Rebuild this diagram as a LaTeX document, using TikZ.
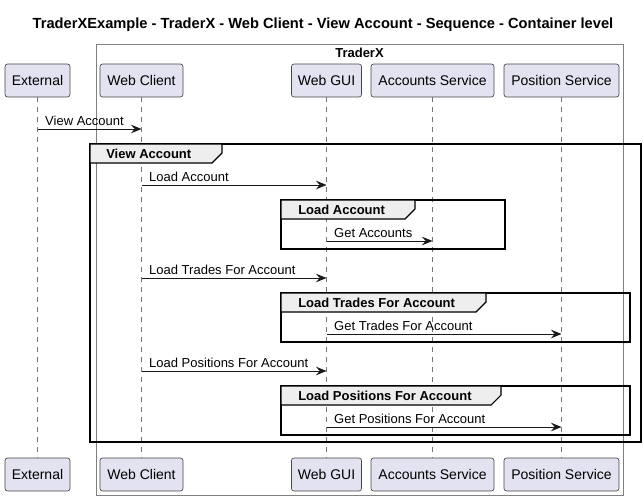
\documentclass[tikz,border=0pt]{standalone}
\usepackage{fontspec}
\setmainfont{Liberation Sans}
\usetikzlibrary{arrows.meta}
\definecolor{partfill}{HTML}{E2E2F0}
\definecolor{tabfill}{HTML}{EEEEEE}
\definecolor{ink}{HTML}{181818}
\begin{document}
\begin{tikzpicture}[x=0.75pt,y=-0.75pt,
 part/.style={draw=ink!80, fill=partfill, rounded corners=1.9pt, line width=0.5pt, minimum height=24.75pt, inner sep=0pt, font=\fontsize{10.5}{12}\selectfont, text=black},
 life/.style={draw=ink!60, line width=0.5pt, dash pattern=on 3.75pt off 3.75pt},
 msg/.style={draw=ink, line width=0.75pt, -{Stealth[length=8pt,width=6.5pt,inset=3pt]}},
 msglabel/.style={anchor=base west, font=\fontsize{9.75}{11}\selectfont, inner sep=0pt},
 frame/.style={draw=black, line width=1.1pt},
 tab/.style={draw=black, line width=0.8pt, fill=tabfill},
 grouplabel/.style={anchor=base west, font=\bfseries\fontsize{9.75}{11}\selectfont, inner sep=0pt},
 boxline/.style={draw=black!50, line width=0.75pt},
 ]
\useasboundingbox (0,0) rectangle (644,500);
\fill[white] (0,0) rectangle (644,500);

% title
\node[font=\bfseries\fontsize{11}{13}\selectfont] (title) at (323,25) {TraderXExample - TraderX - Web Client - View Account - Sequence - Container level};

% TraderX box
\draw[boxline] (96,44) rectangle (623,495);
\node[font=\bfseries\fontsize{9.75}{11}\selectfont, inner sep=0pt] (traderxlabel) at (359.5,53) {TraderX};

% participants (top)
\node[part, minimum width=48.75pt] (ext) at (37.5,80.5) {External};
\node[part, minimum width=62.25pt] (wc) at (141.5,80.5) {Web Client};
\node[part, minimum width=52.5pt] (gui) at (326.5,80.5) {Web GUI};
\node[part, minimum width=92.25pt] (acc) at (432.5,80.5) {Accounts Service};
\node[part, minimum width=86.25pt] (pos) at (561.5,80.5) {Position Service};
% participants (bottom)
\node[part, minimum width=48.75pt] (extb) at (37.5,474.5) {External};
\node[part, minimum width=62.25pt] (wcb) at (141.5,474.5) {Web Client};
\node[part, minimum width=52.5pt] (guib) at (326.5,474.5) {Web GUI};
\node[part, minimum width=92.25pt] (accb) at (432.5,474.5) {Accounts Service};
\node[part, minimum width=86.25pt] (posb) at (561.5,474.5) {Position Service};

% lifelines
\draw[life] (ext.south) -- (extb.north);
\draw[life] (wc.south) -- (wcb.north);
\draw[life] (gui.south) -- (guib.north);
\draw[life] (acc.south) -- (accb.north);
\draw[life] (pos.south) -- (posb.north);

% groups
\draw[frame] (90,144) rectangle (641,442);
\draw[tab] (90,144) -- (222,144) -- (222,153) -- (212,163) -- (90,163) -- cycle;
\node[grouplabel] (g0) at (106,158.5) {View Account};

\draw[frame] (281,200) rectangle (505,249);
\draw[tab] (281,200) -- (415,200) -- (415,209) -- (405,219) -- (281,219) -- cycle;
\node[grouplabel] (g1) at (298,214.5) {Load Account};

\draw[frame] (281,293) rectangle (630,342);
\draw[tab] (281,293) -- (486,293) -- (486,302) -- (476,312) -- (281,312) -- cycle;
\node[grouplabel] (g2) at (298,307.5) {Load Trades For Account};

\draw[frame] (281,386) rectangle (630,435);
\draw[tab] (281,386) -- (501,386) -- (501,395) -- (491,405) -- (281,405) -- cycle;
\node[grouplabel] (g3) at (298,400.5) {Load Positions For Account};

% message rows
\coordinate (r1) at (0,129);
\coordinate (r2) at (0,185);
\coordinate (r3) at (0,241);
\coordinate (r4) at (0,278);
\coordinate (r5) at (0,334);
\coordinate (r6) at (0,371);
\coordinate (r7) at (0,427);

\coordinate (m1s) at (ext |- r1); \coordinate (m1e) at (wc |- r1);
\coordinate (m2s) at (wc |- r2); \coordinate (m2e) at (gui |- r2);
\coordinate (m3s) at (gui |- r3); \coordinate (m3e) at (acc |- r3);
\coordinate (m4s) at (wc |- r4); \coordinate (m4e) at (gui |- r4);
\coordinate (m5s) at (gui |- r5); \coordinate (m5e) at (pos |- r5);
\coordinate (m6s) at (wc |- r6); \coordinate (m6e) at (gui |- r6);
\coordinate (m7s) at (gui |- r7); \coordinate (m7e) at (pos |- r7);

\draw[msg] (m1s) -- (m1e);
\draw[msg] (m2s) -- (m2e);
\draw[msg] (m3s) -- (m3e);
\draw[msg] (m4s) -- (m4e);
\draw[msg] (m5s) -- (m5e);
\draw[msg] (m6s) -- (m6e);
\draw[msg] (m7s) -- (m7e);

\node[msglabel] (l1) at ([xshift=5.6pt,yshift=3pt]m1s) {View Account};
\node[msglabel] (l2) at ([xshift=5.6pt,yshift=3pt]m2s) {Load Account};
\node[msglabel] (l3) at ([xshift=5.6pt,yshift=3pt]m3s) {Get Accounts};
\node[msglabel] (l4) at ([xshift=5.6pt,yshift=3pt]m4s) {Load Trades For Account};
\node[msglabel] (l5) at ([xshift=5.6pt,yshift=3pt]m5s) {Get Trades For Account};
\node[msglabel] (l6) at ([xshift=5.6pt,yshift=3pt]m6s) {Load Positions For Account};
\node[msglabel] (l7) at ([xshift=5.6pt,yshift=3pt]m7s) {Get Positions For Account};
\end{tikzpicture}
\end{document}
